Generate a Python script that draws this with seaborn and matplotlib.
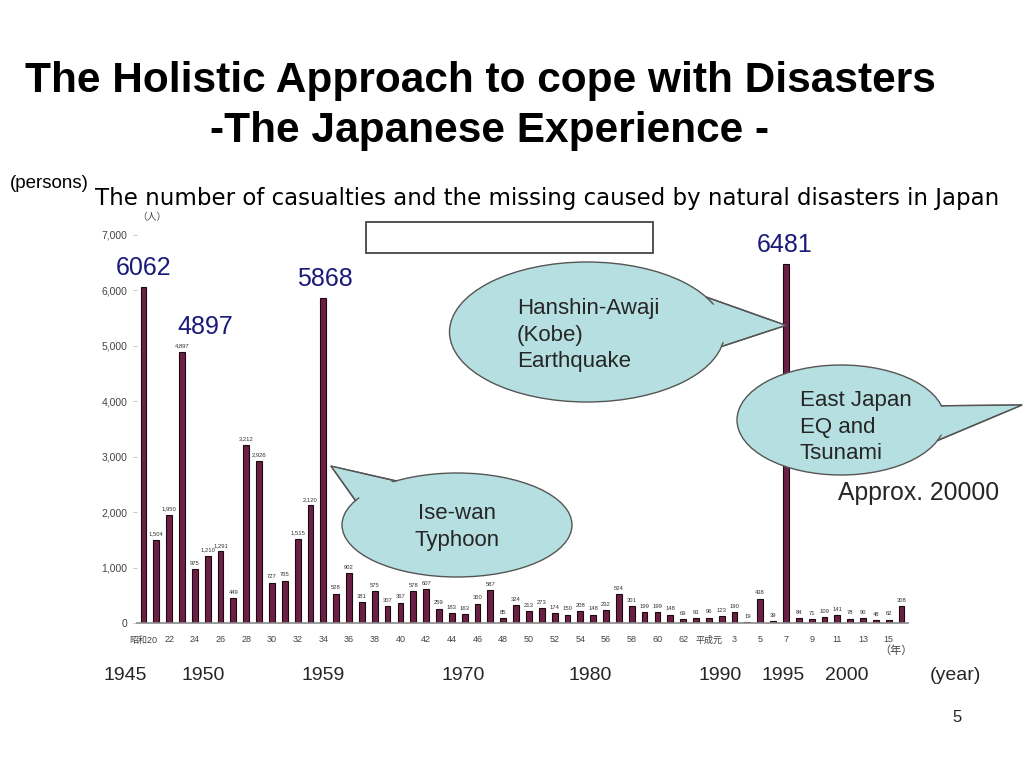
import numpy as np
import pandas as pd
import matplotlib
matplotlib.use("Agg")
import matplotlib.pyplot as plt
from matplotlib.patches import Ellipse, Polygon, Rectangle
import seaborn as sns

# ---------------- data ----------------
years = list(range(1945, 2005))
casualties = [6062, 1504, 1950, 4897, 975, 1210, 1291, 449, 3212, 2926,
              727, 765, 1515, 2120, 5868, 528, 902, 381, 575, 307,
              367, 578, 607, 259, 183, 163, 350, 587, 85, 324,
              213, 273, 174, 150, 208, 148, 232, 524, 301, 199,
              199, 148, 69, 93, 96, 123, 190, 19, 438, 39,
              6481, 84, 71, 109, 141, 78, 90, 48, 62, 308]
era_tick_labels = ['昭和20', '22', '24', '26', '28', '30', '32', '34', '36', '38',
                   '40', '42', '44', '46', '48', '50', '52', '54', '56', '58',
                   '60', '62', '平成元', '3', '5', '7', '9', '11', '13', '15']
y_ticks = [0, 1000, 2000, 3000, 4000, 5000, 6000, 7000]
big_label_years = [1945, 1948, 1959, 1995]
western_year_labels = ['1945', '1950', '1959', '1970', '1980', '1990', '1995', '2000', '(year)']
western_year_x = [125, 203, 323, 463, 590, 720, 783, 847, 955]

df = pd.DataFrame({'year': years, 'casualties': casualties})

sns.set_theme(style='white')
plt.rcParams['font.family'] = ['Liberation Sans', 'Noto Sans CJK JP', 'DejaVu Sans']

W, H = 1024, 768
fig = plt.figure(figsize=(W / 100, H / 100), dpi=100)
fig.patch.set_facecolor('white')

# main chart axes (pixel geometry from the slide)
left_px, right_px, bottom_px, top_px = 137, 908, 623, 235
ax = fig.add_axes([left_px / W, 1 - bottom_px / H,
                   (right_px - left_px) / W, (bottom_px - top_px) / H])
sns.barplot(data=df, x='year', y='casualties', order=years, color='#6b2046',
            width=0.45, edgecolor='#1e0810', linewidth=0.8, saturation=1,
            ax=ax)
ax.set_xlim(-0.5, len(years) - 0.5)
ax.set_ylim(0, 7000)
ax.set_xlabel('')
ax.set_ylabel('')
ax.set_facecolor('none')
for s in ['top', 'right', 'left']:
    ax.spines[s].set_visible(False)
ax.spines['bottom'].set_color('#8a8a8a')
ax.spines['bottom'].set_linewidth(1.2)

ax.set_yticks(y_ticks)
ax.set_yticklabels([f'{v:,}' for v in y_ticks], fontsize=7.5, color='#444444')
ax.tick_params(axis='y', left=True, length=3, width=0.6, color='#bbbbbb', pad=4)
ax.set_xticks(range(0, len(years), 2))
ax.set_xticklabels(era_tick_labels, fontsize=6.5, color='#444444')
ax.tick_params(axis='x', bottom=False, pad=3)

# small value labels above bars
for i, v in enumerate(casualties):
    if years[i] in (1945, 1959, 1995):
        continue
    ax.text(i, v + 60, f'{v:,}', ha='center', va='bottom', fontsize=4.2,
            color='#333333')

# big blue labels
big_offsets = {1945: (0, 340), 1948: (1.8, 440), 1959: (0.15, 340), 1995: (-0.1, 340)}
for yr in big_label_years:
    i = years.index(yr)
    dx, dy = big_offsets[yr]
    ax.text(i + dx, casualties[i] + dy, str(casualties[i]), ha='center', va='center',
            fontsize=18, color='#1a1a7a')

ax.text(-0.5, 7330, '（人）', ha='left', va='center', fontsize=7, color='#444444',
        family=['Noto Sans CJK JP'])
ax.text(58.6, -500, '（年）', ha='center', va='center', fontsize=8, color='#444444',
        family=['Noto Sans CJK JP'], clip_on=False)

# ---------------- overlay in slide pixel coords ----------------
ov = fig.add_axes([0, 0, 1, 1], zorder=5)
ov.set_xlim(0, W)
ov.set_ylim(H, 0)
ov.axis('off')

ov.text(480, 81, 'The Holistic Approach to cope with Disasters', ha='center',
        va='center', fontsize=30.5, fontweight='bold', color='black')
ov.text(490, 131, '-The Japanese Experience -', ha='center', va='center',
        fontsize=30.5, fontweight='bold', color='black')
ov.text(10, 183, '(persons)', ha='left', va='center', fontsize=13.5, color='black')
ov.text(95, 199, 'The number of casualties and the missing caused by natural disasters in Japan',
        ha='left', va='center', fontsize=16.5, color='black', family=['DejaVu Sans'])
ov.add_patch(Rectangle((366, 222), 287, 31, facecolor='white', edgecolor='#444444', lw=1.3))

bubble_fill = '#b5dfe0'
bubble_edge = '#555555'


def bubble(cx, cy, w, h, a1, a2, tip):
    p1 = (cx + w / 2 * np.cos(np.radians(a1)), cy + h / 2 * np.sin(np.radians(a1)))
    p2 = (cx + w / 2 * np.cos(np.radians(a2)), cy + h / 2 * np.sin(np.radians(a2)))
    ov.add_patch(Polygon([p1, tip, p2], closed=True, facecolor=bubble_fill,
                         edgecolor=bubble_edge, lw=1.0, zorder=1))
    ov.add_patch(Ellipse((cx, cy), w, h, facecolor=bubble_fill, edgecolor=bubble_edge,
                         lw=1.0, zorder=2))
    # hide the seam between tail and ellipse
    inner = [(p1[0] + (cx - p1[0]) * 0.08, p1[1] + (cy - p1[1]) * 0.08),
             tip,
             (p2[0] + (cx - p2[0]) * 0.08, p2[1] + (cy - p2[1]) * 0.08)]
    ov.add_patch(Polygon(inner, closed=True, facecolor=bubble_fill, edgecolor='none',
                         zorder=3))
    ov.plot([p1[0], tip[0], p2[0]], [p1[1], tip[1], p2[1]], color=bubble_edge,
            lw=1.0, zorder=4)


def data_to_px(x, y):
    dx, dy = ax.transData.transform((x, y))
    return dx, H - dy


kobe_tip = data_to_px(years.index(1995), 5370)
ise_tip = data_to_px(years.index(1959) + 0.6, 2830)

bubble(587, 332, 275, 140, -30, 12, kobe_tip)
bubble(841, 420, 208, 110, -15, 22, (1022, 405))
bubble(457, 525, 230, 104, -152, -122, ise_tip)

ov.text(517, 335, 'Hanshin-Awaji\n(Kobe)\nEarthquake', ha='left', va='center',
        fontsize=16, linespacing=1.33, zorder=6)
ov.text(800, 427, 'East Japan\nEQ and\nTsunami', ha='left', va='center',
        fontsize=16, linespacing=1.33, zorder=6)
ov.text(457, 527, 'Ise-wan\nTyphoon', ha='center', va='center',
        fontsize=16, linespacing=1.33, zorder=6)

ov.text(838, 493, 'Approx. 20000', ha='left', va='center', fontsize=17.8)

for lab, x in zip(western_year_labels, western_year_x):
    ov.text(x, 675, lab, ha='center', va='center', fontsize=14)

ov.text(957, 717, '5', ha='center', va='center', fontsize=12)

fig.savefig('out.png', dpi=100, facecolor='white')
